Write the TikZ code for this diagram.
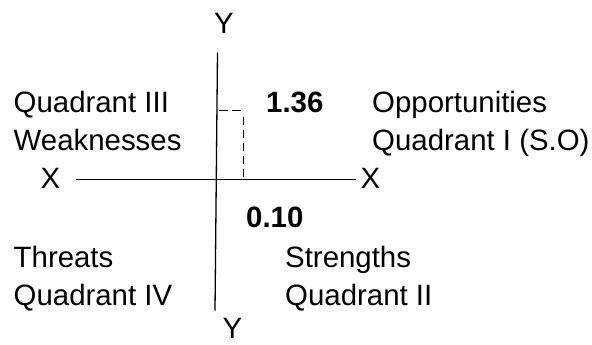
\documentclass[tikz,border=0pt]{standalone}
\usepackage{fontspec}
\setmainfont{Liberation Sans}
\begin{document}
\begin{tikzpicture}[x=1pt,y=-1pt,
  lbl/.style={anchor=base west,inner sep=0pt,font=\fontsize{29.4}{35}\selectfont},
  ax/.style={anchor=base,inner sep=0pt,font=\fontsize{29.4}{35}\selectfont},
  num/.style={lbl,font=\fontsize{29.4}{35}\selectfont\bfseries},
  axis/.style={line width=1.3pt,black},
  guide/.style={line width=1.3pt,black,dash pattern=on 8pt off 5pt}]
\useasboundingbox (0,0) rectangle (592,345);
% axis labels
\node[ax] (yt) at (224,33.5) {Y};
\node[ax] (yb) at (232.5,338.5) {Y};
\node[lbl] (xl) at (40.5,188) {X};
\node[lbl] (xr) at (360.5,188) {X};
% quadrant captions
\node[lbl] (q3) at (13.5,112) {Quadrant III};
\node[lbl] (weak) at (13.5,150.5) {Weaknesses};
\node[lbl] (opp) at (372,112) {Opportunities};
\node[lbl] (q1) at (372,150.5) {Quadrant I (S.O)};
\node[lbl] (threats) at (13.5,267) {Threats};
\node[lbl] (q4) at (13.5,305) {Quadrant IV};
\node[lbl] (str) at (285,267) {Strengths};
\node[lbl] (q2) at (285,305) {Quadrant II};
% values
\node[num] (v136) at (266,112) {1.36};
\node[num] (v010) at (246,227.5) {0.10};
% axes
\coordinate (xa) at (76,179.3);
\coordinate (xb) at (356,179.3);
\coordinate (ya) at (217.5,52.5);
\coordinate (yc) at (215,310.7);
\draw[axis] (xa) -- (xb);
\draw[axis] (ya) -- (yc);
% guide to the point (0.10, 1.36)
\coordinate (py) at (219,110.3);
\coordinate (pe) at (241,110.3);
\coordinate (pt) at (243.3,116.5);
\coordinate (px) at (243.3,179.3);
\draw[guide,dash pattern=on 9pt off 4pt] (py) -- (pe);
\draw[guide] (pt) -- (px);
\end{tikzpicture}
\end{document}
